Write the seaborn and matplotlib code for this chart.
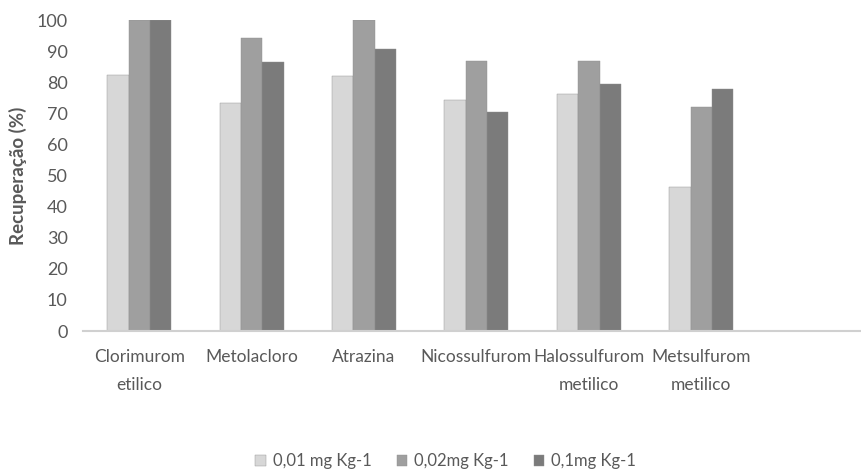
import pandas as pd
import matplotlib
matplotlib.use("Agg")
import matplotlib.pyplot as plt
import seaborn as sns

# recovery values
herbicides = ['Clorimurom\netilico', 'Metolacloro', 'Atrazina', 'Nicossulfurom',
              'Halossulfurom\nmetilico', 'Metsulfurom\nmetilico']
levels = ['0,01 mg Kg-1', '0,02mg Kg-1', '0,1mg Kg-1']
rec_001 = [82.4, 73.4, 82.0, 74.3, 76.3, 46.4]
rec_002 = [100.0, 94.3, 100.0, 86.7, 86.7, 72.1]
rec_01 = [100.0, 86.4, 90.6, 70.4, 79.4, 77.7]
y_ticks = list(range(0, 101, 10))

rows = []
for lev, vals in zip(levels, [rec_001, rec_002, rec_01]):
    for h, v in zip(herbicides, vals):
        rows.append({'herbicida': h, 'nivel': lev, 'recuperacao': v})
df = pd.DataFrame(rows)

sns.set_theme(style='white')
plt.rcParams['font.family'] = ['Lato', 'DejaVu Sans']

fig = plt.figure(figsize=(8.62, 4.70), dpi=100)
ax = fig.add_axes([83/862, 139/470, 779/862, 311/470])

palette = ['#d7d7d7', '#9f9f9f', '#7b7b7b']
sns.barplot(data=df, x='herbicida', y='recuperacao', hue='nivel', order=herbicides,
            hue_order=levels, palette=palette, width=0.57, saturation=1,
            edgecolor='#909090', linewidth=0.3, ax=ax)

ax.set_ylim(0, 100)
ax.set_xlim(-0.5, 6.43)
ax.set_yticks(y_ticks)
ax.tick_params(axis='y', labelsize=13, colors='#595959', length=0, pad=11)
ax.tick_params(axis='x', labelsize=12.5, colors='#595959', length=0, pad=13)
for lbl in ax.get_xticklabels():
    lbl.set_linespacing(1.95)
ax.set_xlabel('')
ax.set_ylabel('Recuperação (%)', fontsize=13.5, color='#595959', fontweight='bold', labelpad=7)
for s in ['top', 'right', 'left']:
    ax.spines[s].set_visible(False)
ax.spines['bottom'].set_color('#d0d0d0')
ax.spines['bottom'].set_linewidth(1.5)

ax.legend_.remove()
handles, labels = ax.get_legend_handles_labels()
fig.legend(handles, labels, loc='center', bbox_to_anchor=(0.517, 9/470), ncol=3,
           frameon=False, fontsize=12, handlelength=0.65, handleheight=0.65,
           handletextpad=0.4, columnspacing=1.5, labelcolor='#595959',
           borderpad=0)

fig.savefig('out.png', dpi=100)
